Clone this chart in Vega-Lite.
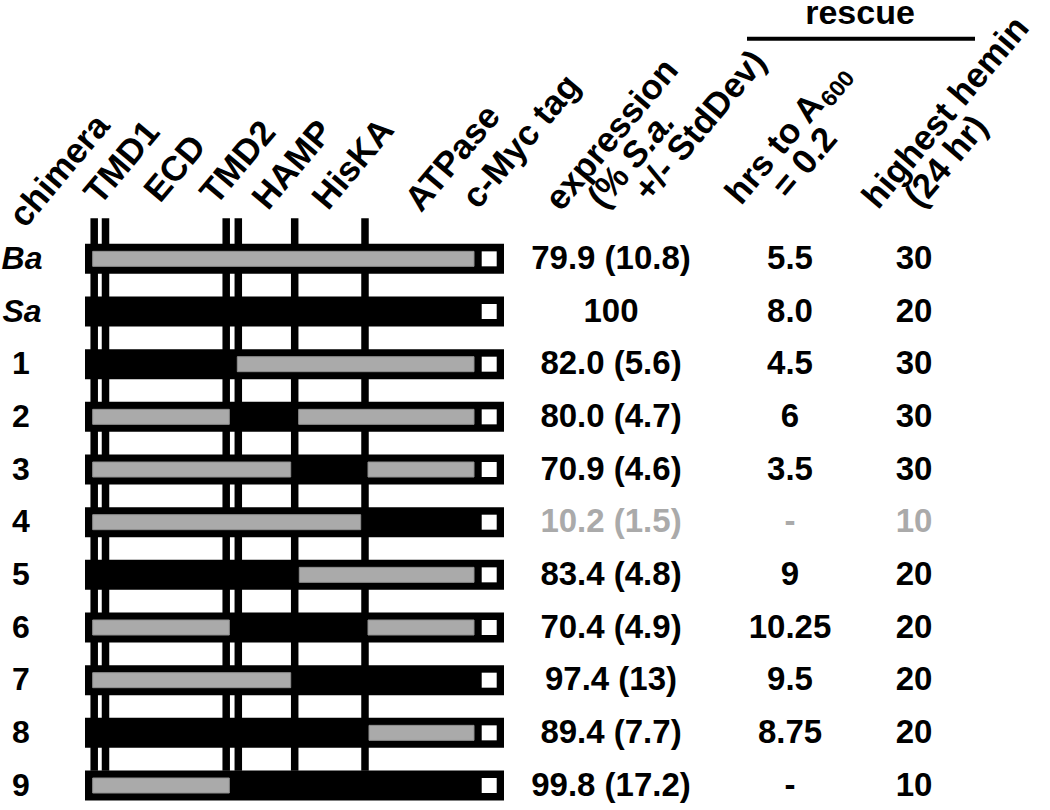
{
  "$schema": "https://vega.github.io/schema/vega-lite/v6.json",
  "width": 1050,
  "height": 810,
  "padding": 0,
  "autosize": {"type": "none"},
  "background": "white",
  "config": {"view": {"stroke": null}, "axis": {"disable": true}},
  "datasets": {
    "rows": [
      {"id": "Ba", "row": 0, "expr": "79.9 (10.8)", "hrs": "5.5", "hemin": "30"},
      {"id": "Sa", "row": 1, "expr": "100", "hrs": "8.0", "hemin": "20"},
      {"id": "1", "row": 2, "expr": "82.0 (5.6)", "hrs": "4.5", "hemin": "30"},
      {"id": "2", "row": 3, "expr": "80.0 (4.7)", "hrs": "6", "hemin": "30"},
      {"id": "3", "row": 4, "expr": "70.9 (4.6)", "hrs": "3.5", "hemin": "30"},
      {"id": "4", "row": 5, "expr": "10.2 (1.5)", "hrs": "-", "hemin": "10"},
      {"id": "5", "row": 6, "expr": "83.4 (4.8)", "hrs": "9", "hemin": "20"},
      {"id": "6", "row": 7, "expr": "70.4 (4.9)", "hrs": "10.25", "hemin": "20"},
      {"id": "7", "row": 8, "expr": "97.4 (13)", "hrs": "9.5", "hemin": "20"},
      {"id": "8", "row": 9, "expr": "89.4 (7.7)", "hrs": "8.75", "hemin": "20"},
      {"id": "9", "row": 10, "expr": "99.8 (17.2)", "hrs": "-", "hemin": "10"}
    ],
    "segs": [
      {"id": "Ba", "row": 0, "start": 92.7, "end": 474},
      {"id": "1", "row": 2, "start": 237.3, "end": 474},
      {"id": "2", "row": 3, "start": 92.7, "end": 229.3},
      {"id": "2", "row": 3, "start": 298.7, "end": 474},
      {"id": "3", "row": 4, "start": 92.7, "end": 290.7},
      {"id": "3", "row": 4, "start": 368, "end": 474},
      {"id": "4", "row": 5, "start": 92.7, "end": 360.7},
      {"id": "5", "row": 6, "start": 299.3, "end": 474},
      {"id": "6", "row": 7, "start": 92.7, "end": 229.3},
      {"id": "6", "row": 7, "start": 368, "end": 474},
      {"id": "7", "row": 8, "start": 92.7, "end": 290.7},
      {"id": "8", "row": 9, "start": 369, "end": 474},
      {"id": "9", "row": 10, "start": 92.7, "end": 229.3}
    ],
    "bounds": [
      {"b": "TMD1 start", "pos": 94.2},
      {"b": "TMD1 end", "pos": 105.5},
      {"b": "TMD2 start", "pos": 226.2},
      {"b": "TMD2 end", "pos": 238.3},
      {"b": "HAMP end", "pos": 294.7},
      {"b": "HisKA end", "pos": 365}
    ]
  },
  "layer": [
    {
      "data": {"name": "bounds"},
      "mark": {"type": "rule", "color": "black", "strokeWidth": 7.5},
      "encoding": {
        "x": {"field": "pos", "type": "quantitative", "scale": {"domain": [0, 1050], "nice": false, "zero": false}},
        "y": {"datum": -0.77, "type": "quantitative", "scale": {"domain": [-4.82, 10.37], "nice": false, "zero": false, "reverse": true}},
        "y2": {"datum": 9.72}
      }
    },
    {
      "data": {"name": "rows"},
      "mark": {"type": "bar", "color": "black", "height": 30},
      "encoding": {
        "x": {"datum": 85, "type": "quantitative"},
        "x2": {"datum": 504},
        "y": {"field": "row", "type": "quantitative"}
      }
    },
    {
      "data": {"name": "segs"},
      "mark": {"type": "bar", "fill": "#aaaaaa", "stroke": "#8f8f8f", "strokeWidth": 1, "height": 15},
      "encoding": {
        "x": {"field": "start", "type": "quantitative"},
        "x2": {"field": "end"},
        "y": {"field": "row", "type": "quantitative"}
      }
    },
    {
      "data": {"name": "rows"},
      "mark": {"type": "bar", "color": "white", "height": 15},
      "encoding": {
        "x": {"datum": 481.7, "type": "quantitative"},
        "x2": {"datum": 496.7},
        "y": {"field": "row", "type": "quantitative"}
      }
    },
    {
      "data": {"name": "rows"},
      "transform": [{"filter": "datum.id === 'Ba' || datum.id === 'Sa'"}],
      "mark": {"type": "text", "font": "Liberation Sans", "fontWeight": "bold", "fontStyle": "italic", "fontSize": 32, "align": "center", "baseline": "middle", "color": "black"},
      "encoding": {
        "x": {"datum": 22, "type": "quantitative"},
        "y": {"field": "row", "type": "quantitative"},
        "text": {"field": "id"}
      }
    },
    {
      "data": {"name": "rows"},
      "transform": [{"filter": "datum.id !== 'Ba' && datum.id !== 'Sa'"}],
      "mark": {"type": "text", "font": "Liberation Sans", "fontWeight": "bold", "fontSize": 32, "align": "center", "baseline": "middle", "color": "black"},
      "encoding": {
        "x": {"datum": 21, "type": "quantitative"},
        "y": {"field": "row", "type": "quantitative"},
        "text": {"field": "id"}
      }
    },
    {
      "data": {"name": "rows"},
      "mark": {"type": "text", "font": "Liberation Sans", "fontWeight": "bold", "fontSize": 33, "align": "center", "baseline": "middle"},
      "encoding": {
        "x": {"datum": 611, "type": "quantitative"},
        "y": {"field": "row", "type": "quantitative"},
        "text": {"field": "expr"},
        "color": {"condition": {"test": "datum.id === '4'", "value": "#aaaaaa"}, "value": "black"}
      }
    },
    {
      "data": {"name": "rows"},
      "mark": {"type": "text", "font": "Liberation Sans", "fontWeight": "bold", "fontSize": 33, "align": "center", "baseline": "middle"},
      "encoding": {
        "x": {"datum": 790, "type": "quantitative"},
        "y": {"field": "row", "type": "quantitative"},
        "text": {"field": "hrs"},
        "color": {"condition": {"test": "datum.id === '4'", "value": "#aaaaaa"}, "value": "black"}
      }
    },
    {
      "data": {"name": "rows"},
      "mark": {"type": "text", "font": "Liberation Sans", "fontWeight": "bold", "fontSize": 33, "align": "center", "baseline": "middle"},
      "encoding": {
        "x": {"datum": 914, "type": "quantitative"},
        "y": {"field": "row", "type": "quantitative"},
        "text": {"field": "hemin"},
        "color": {"condition": {"test": "datum.id === '4'", "value": "#aaaaaa"}, "value": "black"}
      }
    },
    {
      "data": {"values": [{"label": "rescue"}]},
      "mark": {"type": "text", "font": "Liberation Sans", "fontWeight": "bold", "fontSize": 34, "align": "center", "baseline": "alphabetic", "color": "black"},
      "encoding": {
        "x": {"datum": 860, "type": "quantitative"},
        "y": {"datum": -4.46, "type": "quantitative"},
        "text": {"field": "label"}
      }
    },
    {
      "data": {"values": [{"label": "rescue"}]},
      "mark": {"type": "rule", "color": "black", "strokeWidth": 4},
      "encoding": {
        "x": {"datum": 747, "type": "quantitative"},
        "x2": {"datum": 975},
        "y": {"datum": -4.18, "type": "quantitative"}
      }
    },
    {
      "data": {"values": [{"label": "chimera"}]},
      "mark": {"type": "text", "font": "Liberation Sans", "fontWeight": "bold", "fontSize": 35, "angle": 310, "align": "left", "baseline": "alphabetic", "color": "black"},
      "encoding": {"x": {"datum": 25, "type": "quantitative"}, "y": {"datum": -0.56, "type": "quantitative"}, "text": {"field": "label"}}
    },
    {
      "data": {"values": [{"label": "TMD1"}]},
      "mark": {"type": "text", "font": "Liberation Sans", "fontWeight": "bold", "fontSize": 35, "angle": 310, "align": "left", "baseline": "alphabetic", "color": "black"},
      "encoding": {"x": {"datum": 100, "type": "quantitative"}, "y": {"datum": -1.0, "type": "quantitative"}, "text": {"field": "label"}}
    },
    {
      "data": {"values": [{"label": "ECD"}]},
      "mark": {"type": "text", "font": "Liberation Sans", "fontWeight": "bold", "fontSize": 35, "angle": 310, "align": "left", "baseline": "alphabetic", "color": "black"},
      "encoding": {"x": {"datum": 160, "type": "quantitative"}, "y": {"datum": -1.04, "type": "quantitative"}, "text": {"field": "label"}}
    },
    {
      "data": {"values": [{"label": "TMD2"}]},
      "mark": {"type": "text", "font": "Liberation Sans", "fontWeight": "bold", "fontSize": 35, "angle": 310, "align": "left", "baseline": "alphabetic", "color": "black"},
      "encoding": {"x": {"datum": 216, "type": "quantitative"}, "y": {"datum": -1.0, "type": "quantitative"}, "text": {"field": "label"}}
    },
    {
      "data": {"values": [{"label": "HAMP"}]},
      "mark": {"type": "text", "font": "Liberation Sans", "fontWeight": "bold", "fontSize": 35, "angle": 310, "align": "left", "baseline": "alphabetic", "color": "black"},
      "encoding": {"x": {"datum": 268, "type": "quantitative"}, "y": {"datum": -0.9, "type": "quantitative"}, "text": {"field": "label"}}
    },
    {
      "data": {"values": [{"label": "HisKA"}]},
      "mark": {"type": "text", "font": "Liberation Sans", "fontWeight": "bold", "fontSize": 35, "angle": 310, "align": "left", "baseline": "alphabetic", "color": "black"},
      "encoding": {"x": {"datum": 328, "type": "quantitative"}, "y": {"datum": -0.9, "type": "quantitative"}, "text": {"field": "label"}}
    },
    {
      "data": {"values": [{"label": "ATPase"}]},
      "mark": {"type": "text", "font": "Liberation Sans", "fontWeight": "bold", "fontSize": 35, "angle": 310, "align": "left", "baseline": "alphabetic", "color": "black"},
      "encoding": {"x": {"datum": 421, "type": "quantitative"}, "y": {"datum": -0.86, "type": "quantitative"}, "text": {"field": "label"}}
    },
    {
      "data": {"values": [{"label": "c-Myc tag"}]},
      "mark": {"type": "text", "font": "Liberation Sans", "fontWeight": "bold", "fontSize": 35, "angle": 310, "align": "left", "baseline": "alphabetic", "color": "black"},
      "encoding": {"x": {"datum": 478, "type": "quantitative"}, "y": {"datum": -0.92, "type": "quantitative"}, "text": {"field": "label"}}
    },
    {
      "data": {"values": [{"label": "expression"}]},
      "mark": {"type": "text", "font": "Liberation Sans", "fontWeight": "bold", "fontSize": 35, "angle": 310, "align": "left", "baseline": "alphabetic", "color": "black"},
      "encoding": {"x": {"datum": 561, "type": "quantitative"}, "y": {"datum": -0.88, "type": "quantitative"}, "text": {"field": "label"}}
    },
    {
      "data": {"values": [{"label": "(% "}]},
      "mark": {"type": "text", "font": "Liberation Sans", "fontWeight": "bold", "fontSize": 35, "angle": 310, "align": "left", "baseline": "alphabetic", "color": "black", "dx": 29, "dy": 31},
      "encoding": {"x": {"datum": 561, "type": "quantitative"}, "y": {"datum": -0.88, "type": "quantitative"}, "text": {"field": "label"}}
    },
    {
      "data": {"values": [{"label": "S.a."}]},
      "mark": {"type": "text", "font": "Liberation Sans", "fontWeight": "bold", "fontStyle": "italic", "fontSize": 35, "angle": 310, "align": "left", "baseline": "alphabetic", "color": "black", "dx": 81, "dy": 31},
      "encoding": {"x": {"datum": 561, "type": "quantitative"}, "y": {"datum": -0.88, "type": "quantitative"}, "text": {"field": "label"}}
    },
    {
      "data": {"values": [{"label": "+/- StdDev)"}]},
      "mark": {"type": "text", "font": "Liberation Sans", "fontWeight": "bold", "fontSize": 35, "angle": 310, "align": "left", "baseline": "alphabetic", "color": "black", "dx": 64, "dy": 62},
      "encoding": {"x": {"datum": 561, "type": "quantitative"}, "y": {"datum": -0.88, "type": "quantitative"}, "text": {"field": "label"}}
    },
    {
      "data": {"values": [{"label": "hrs to A"}]},
      "mark": {"type": "text", "font": "Liberation Sans", "fontWeight": "bold", "fontSize": 35, "angle": 310, "align": "left", "baseline": "alphabetic", "color": "black"},
      "encoding": {"x": {"datum": 741, "type": "quantitative"}, "y": {"datum": -1.0, "type": "quantitative"}, "text": {"field": "label"}}
    },
    {
      "data": {"values": [{"label": "600"}]},
      "mark": {"type": "text", "font": "Liberation Sans", "fontWeight": "bold", "fontSize": 23, "angle": 310, "align": "left", "baseline": "alphabetic", "color": "black", "dx": 133, "dy": 6},
      "encoding": {"x": {"datum": 741, "type": "quantitative"}, "y": {"datum": -1.0, "type": "quantitative"}, "text": {"field": "label"}}
    },
    {
      "data": {"values": [{"label": "= 0.2"}]},
      "mark": {"type": "text", "font": "Liberation Sans", "fontWeight": "bold", "fontSize": 35, "angle": 310, "align": "left", "baseline": "alphabetic", "color": "black", "dx": 35, "dy": 32},
      "encoding": {"x": {"datum": 741, "type": "quantitative"}, "y": {"datum": -1.0, "type": "quantitative"}, "text": {"field": "label"}}
    },
    {
      "data": {"values": [{"label": "highest hemin"}]},
      "mark": {"type": "text", "font": "Liberation Sans", "fontWeight": "bold", "fontSize": 35, "angle": 310, "align": "left", "baseline": "alphabetic", "color": "black"},
      "encoding": {"x": {"datum": 878, "type": "quantitative"}, "y": {"datum": -0.92, "type": "quantitative"}, "text": {"field": "label"}}
    },
    {
      "data": {"values": [{"label": "(24 hr)"}]},
      "mark": {"type": "text", "font": "Liberation Sans", "fontWeight": "bold", "fontSize": 35, "angle": 310, "align": "left", "baseline": "alphabetic", "color": "black", "dx": 28, "dy": 32},
      "encoding": {"x": {"datum": 878, "type": "quantitative"}, "y": {"datum": -0.92, "type": "quantitative"}, "text": {"field": "label"}}
    }
  ]
}
